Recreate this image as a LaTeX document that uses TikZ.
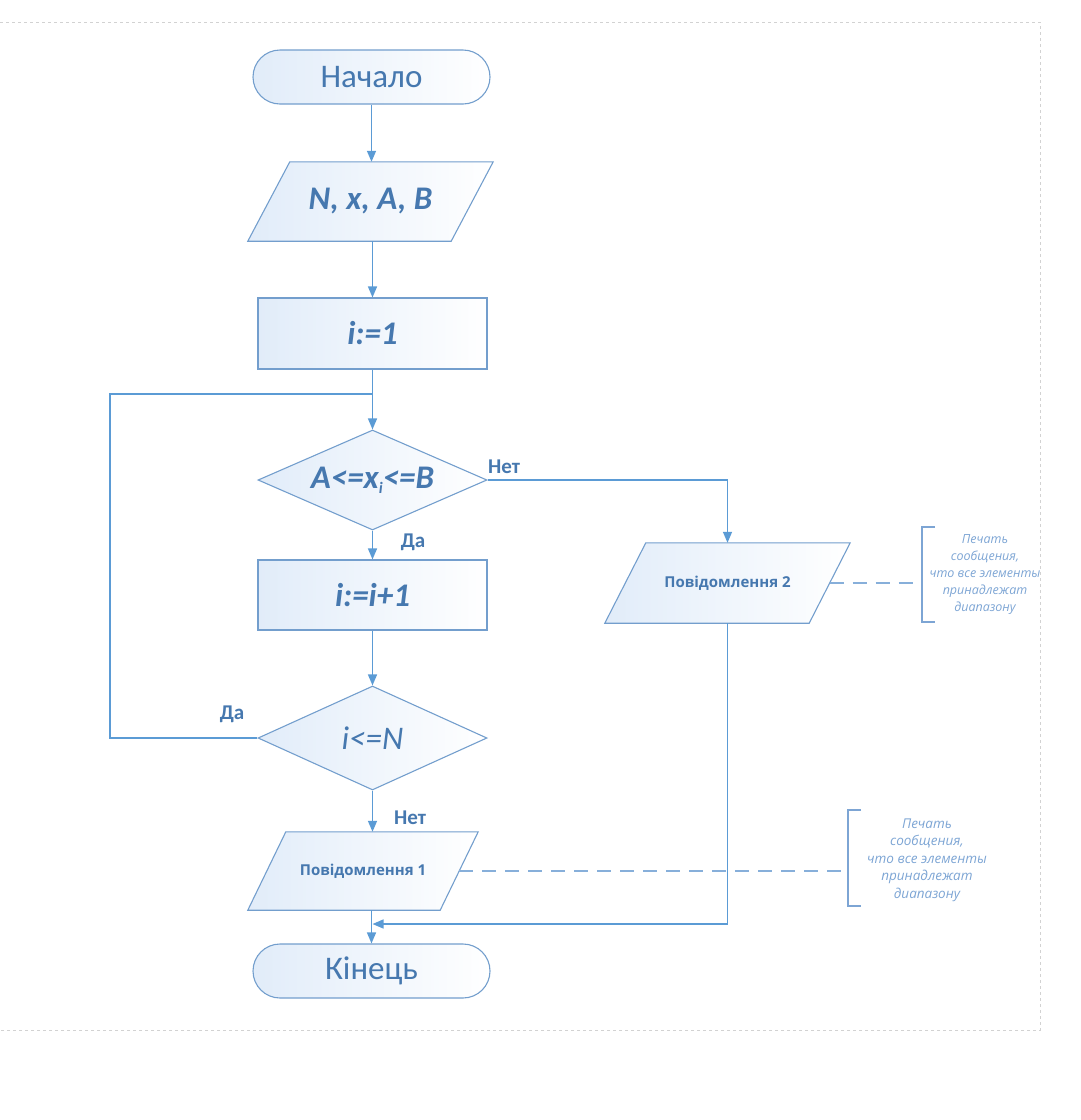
\documentclass[tikz,border=0pt]{standalone}
\usepackage{fontspec}
\setmainfont{Carlito}
\newfontfamily\notefont{Open Sans}
\usetikzlibrary{shapes.geometric,arrows.meta,calc,backgrounds}
\definecolor{lineblue}{RGB}{91,155,213}
\definecolor{edgeblue}{RGB}{115,158,205}
\definecolor{txtblue}{RGB}{70,120,175}
\definecolor{fillblue}{RGB}{225,236,249}
\definecolor{noteblue}{RGB}{125,165,212}
\definecolor{dashblue}{RGB}{135,175,218}
\definecolor{pagegray}{RGB}{210,210,210}
\begin{document}
\begin{tikzpicture}[x=1pt,y=-1pt,
  shapebase/.style={draw=edgeblue, line width=1.1pt, left color=fillblue, right color=white, text=txtblue, inner sep=0pt},
  terminal/.style={shapebase, rectangle, rounded corners=27pt, minimum width=237pt, minimum height=54pt, font=\fontsize{33}{35}\selectfont},
  procbox/.style={shapebase, rectangle, minimum width=229pt, minimum height=71pt, font=\fontsize{33}{35}\selectfont\bfseries\itshape},
  iobox/.style={rectangle, text=txtblue, inner sep=0pt, minimum height=79pt},
  decision/.style={shapebase, diamond, aspect=2.29, minimum width=229pt, minimum height=100pt},
  flow/.style={lineblue, line width=1.4pt},
  arr/.style={flow, -{Triangle[length=11pt,width=9pt]}},
  branch/.style={text=txtblue, font=\fontsize{21}{23}\selectfont\bfseries, inner sep=0pt},
  notedash/.style={dashblue, line width=2pt, dash pattern=on 14pt off 9pt},
  bracket/.style={noteblue, line width=1.6pt},
  notetext/.style={text=noteblue, align=center, inner sep=0pt, font=\notefont\itshape\fontsize{12.5}{17}\selectfont},
  msgfont/.style={font=\notefont\bfseries\fontsize{15}{17}\selectfont}
]
\useasboundingbox (0,0) rectangle (1080,1120);
% page border
\draw[pagegray, dashed, line width=0.8pt] (0,22) -- (1040,22) -- (1040,1030) -- (0,1030);

% nodes
\node[terminal] (start) at (371.5,77) {Начало};
\node[iobox, minimum width=245pt, font=\fontsize{33}{35}\selectfont\bfseries\itshape] (inp) at (370.5,201.5) {N, x, A, B};
\node[procbox] (r1) at (372.5,333.5) {i:=1};
\node[decision, font=\fontsize{33}{35}\selectfont\bfseries\itshape] (d1) at (372.5,480) {A<=x\raisebox{-0.3ex}{\fontsize{16}{18}\selectfont i}<=B};
\node[procbox, minimum height=70pt] (r2) at (372.5,595) {i:=i+1};
\node[decision, minimum height=104pt, font=\fontsize{33}{35}\selectfont\itshape] (d2) at (372.5,738) {i<=N};
\node[iobox, minimum width=230pt, minimum height=78pt, msgfont] (p1) at (363,871) {Повідомлення 1};
\node[iobox, minimum width=245pt, minimum height=80pt, msgfont] (p2) at (727.5,583) {Повідомлення 2};
\node[terminal] (end) at (371.5,971) {Кінець};

% parallelogram outlines behind the text
\begin{scope}[on background layer]
  \path[shapebase] ([xshift=42pt]inp.north west) -- (inp.north east) -- ([xshift=-42pt]inp.south east) -- (inp.south west) -- cycle;
  \path[shapebase] ([xshift=38pt]p1.north west) -- (p1.north east) -- ([xshift=-38pt]p1.south east) -- (p1.south west) -- cycle;
  \path[shapebase] ([xshift=41pt]p2.north west) -- (p2.north east) -- ([xshift=-41pt]p2.south east) -- (p2.south west) -- cycle;
\end{scope}
\coordinate (p1r) at ([xshift=-19pt]p1.east);
\coordinate (p2r) at ([xshift=-20.5pt]p2.east);

% branch labels
\node[branch, anchor=west] (no1) at (488,467) {Нет};
\node[branch] (yes1) at (413,542) {Да};
\node[branch] (yes2) at (232,714) {Да};
\node[branch] (no2) at (410,818) {Нет};

% helper coordinates
\coordinate (loopj) at (372.5,394);
\coordinate (loopl) at (110,394);
\coordinate (loopb) at (d2.west -| loopl);
\coordinate (nocorner) at (d1.east -| p2.north);
\coordinate (p2down) at (727.5,924);
\coordinate (endj) at (372.5,924);

% connectors
\draw[arr] (start.south) -- (start.south |- inp.north);
\draw[arr] (r1.north |- inp.south) -- (r1.north);
\draw[arr] (r1.south) -- (d1.north);
\draw[arr] (d1.south) -- (r2.north);
\draw[arr] (r2.south) -- (d2.north);
\draw[arr] (d2.south) -- (d2.south |- p1.north);
\draw[arr] (end.north |- p1.south) -- (end.north);
\draw[flow] (d2.west) -- (loopb) -- (loopl) -- (loopj);
\draw[arr] (d1.east) -- (nocorner) -- (p2.north);
\draw[flow] (p2.south) -- (p2down);
\draw[arr] (p2down) -- (endj);

% annotations
\coordinate (b1) at (848,871);
\coordinate (b2) at (922,583);
\draw[notedash] (p1r) -- (b1);
\draw[notedash] (p2r) -- (b2);
\draw[bracket] (861,810) -- (848,810) -- (848,906) -- (861,906);
\draw[bracket] (935,527) -- (922,527) -- (922,622) -- (935,622);
\node[notetext, font=\notefont\itshape\fontsize{13.5}{17.5}\selectfont] (n1) at (927,860) {Печать\\сообщения,\\что все элементы\\принадлежат\\диапазону};
\node[notetext] (n2) at (985,575) {Печать\\сообщения,\\что все элементы\\принадлежат\\диапазону};
\end{tikzpicture}
\end{document}
